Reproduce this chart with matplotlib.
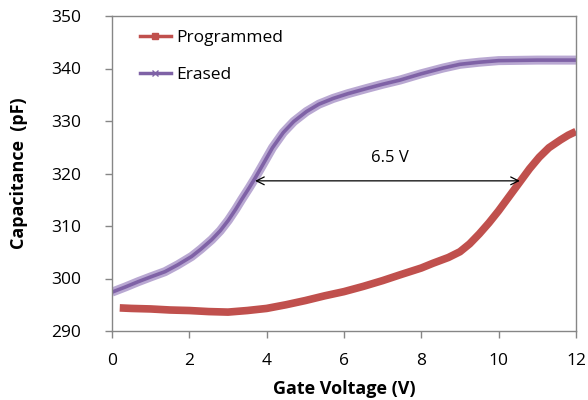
"""C-V curves of a programmed and an erased memory cell."""

import matplotlib

matplotlib.use("Agg")
import matplotlib.patheffects as pe
from matplotlib import pyplot as plt
from matplotlib.lines import Line2D

# values
prog_v = [0.2, 0.5, 1.0, 1.5, 2.0, 2.5, 3.0, 3.5, 4.0, 4.5, 5.0, 5.5, 6.0, 6.5,
          7.0, 7.45, 8.0, 8.3, 8.7, 9.0, 9.25, 9.5, 9.75, 10.0, 10.3, 10.55,
          10.8, 11.05, 11.3, 11.6, 11.8, 12.0]
prog_c = [294.4, 294.3, 294.2, 294.0, 293.9, 293.7, 293.6, 293.9, 294.3, 295.0,
          295.8, 296.7, 297.5, 298.5, 299.6, 300.7, 302.0, 302.9, 304.0, 305.1,
          306.6, 308.5, 310.6, 312.9, 315.9, 318.4, 320.9, 323.1, 324.9, 326.4,
          327.3, 328.0]

erase_v = [0.0, 0.35, 0.68, 1.0, 1.37, 1.7, 2.06, 2.3, 2.58, 2.8, 3.01, 3.2,
           3.35, 3.55, 3.7, 3.91, 4.15, 4.43, 4.7, 5.03, 5.35, 5.72, 6.1, 6.59,
           7.0, 7.45, 8.0, 8.57, 9.0, 9.5, 10.0, 11.0, 12.0]
erase_c = [297.4, 298.4, 299.4, 300.3, 301.3, 302.6, 304.2, 305.6, 307.4, 309.1,
           311.1, 313.2, 315.0, 317.3, 319.1, 321.8, 324.9, 327.8, 329.9, 331.8,
           333.2, 334.3, 335.2, 336.2, 337.0, 337.8, 339.0, 340.1, 340.8, 341.2,
           341.5, 341.6, 341.6]

x_ticks = [0, 2, 4, 6, 8, 10, 12]
y_ticks = [290, 300, 310, 320, 330, 340, 350]
shift_start, shift_end, shift_level = 10.55, 3.7, 318.6

RED = "#c0504d"
PURPLE = "#7f62a6"
PURPLE_LIGHT = "#b9a8d2"
GRID_GREY = "#868686"

plt.rcParams["font.family"] = ["Open Sans", "DejaVu Sans"]

fig = plt.figure(figsize=(5.88, 4.0), dpi=100)
ax = fig.add_axes([0.1905, 0.1725, 0.789, 0.7875])

ax.plot(prog_v, prog_c, color=RED, linewidth=5.5, solid_capstyle="butt",
        solid_joinstyle="round")
ax.plot(
    erase_v, erase_c, color=PURPLE, linewidth=2.6, solid_capstyle="butt",
    solid_joinstyle="round",
    path_effects=[pe.Stroke(linewidth=6.5, foreground=PURPLE_LIGHT), pe.Normal()],
)

# threshold shift arrow
ax.annotate(
    "", xy=(shift_end, shift_level), xytext=(shift_start, shift_level),
    arrowprops=dict(arrowstyle="<->", color="black", linewidth=0.9,
                    shrinkA=0, shrinkB=0, mutation_scale=14),
)
ax.text(7.2, 322.9, "6.5 V", ha="center", va="center", fontsize=12)

ax.set_xlim(0, 12)
ax.set_ylim(290, 350)
ax.set_xticks(x_ticks)
ax.set_yticks(y_ticks)
ax.tick_params(axis="both", direction="out", length=5, width=1,
               color=GRID_GREY, labelsize=12.5)
ax.tick_params(axis="y", pad=17)
ax.tick_params(axis="x", pad=11)
for side in ax.spines.values():
    side.set_color(GRID_GREY)
    side.set_linewidth(1)

ax.set_xlabel("Gate Voltage (V)", fontsize=13, fontweight="bold", labelpad=8)
ax.set_ylabel("Capacitance  (pF)", fontsize=13, fontweight="bold", labelpad=17)

handles = [
    Line2D([], [], color=RED, linewidth=2.5, marker="s", markersize=5),
    Line2D([], [], color=PURPLE, linewidth=2.5, marker="x", markersize=5),
]
ax.legend(handles, ["Programmed", "Erased"], loc="upper left", frameon=False,
          fontsize=12.5, handlelength=1.8, handletextpad=0.3, labelspacing=1.2,
          borderaxespad=0.4, bbox_to_anchor=(0.03, 1.0))

fig.savefig("out.png", dpi=100)
